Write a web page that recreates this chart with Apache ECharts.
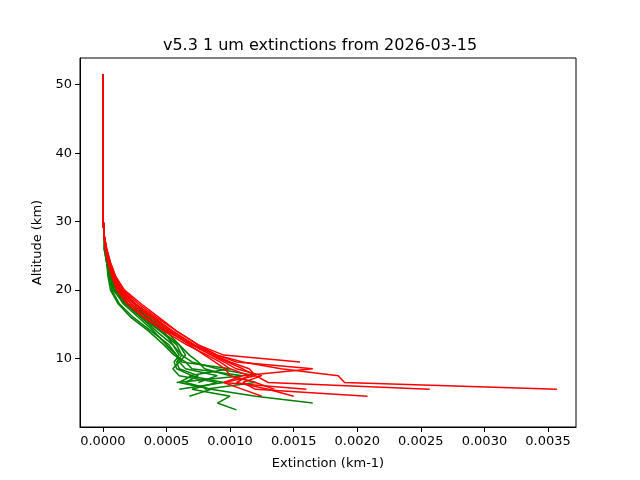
<!DOCTYPE html>
<html><head><meta charset="utf-8">
<script src="https://cdn.jsdelivr.net/npm/echarts@6/dist/echarts.min.js"></script>
</head><body style="margin:0">
<div id="chart" style="width:640px;height:480px"></div>
<script>
// altitude levels (km) shared by all profiles
var altitudes = [2.5,3.5,4.5,5.5,6.5,7.5,8.5,9.5,10.5,12,14,16,18,20,22,24,26,28,30,35,40,45,50,51.5];
var upper = [0.00001,0.000003,0.000001,0.0000005,0.0000003];
var xTicks = [0,0.0005,0.001,0.0015,0.002,0.0025,0.003,0.0035];
var yTicks = [10,20,30,40,50];
// green profiles (null = no data)
var greenProfiles = [
  [0.00105,0.00090,0.00100,0.00070,0.00090,0.00060,0.00055,0.00060,0.00058,0.00050,0.00040,0.00028,0.00016,0.00009,0.00006,0.00004,0.00002],
  [null,0.00165,0.00120,0.00085,0.00060,0.00070,0.00058,0.00056,0.00060,0.00055,0.00048,0.00035,0.00020,0.00011,0.00007,0.00004,0.00002],
  [null,null,0.00068,0.00085,0.00065,0.00075,0.00060,0.00058,0.00062,0.00058,0.00045,0.00030,0.00018,0.00010,0.00006,0.00003,0.00002],
  [null,null,null,0.00060,0.00095,0.00068,0.00100,0.00062,0.00058,0.00052,0.00038,0.00024,0.00013,0.00007,0.00005,0.00003,0.00002],
  [null,null,null,null,0.00075,0.00090,0.00065,0.00060,0.00065,0.00060,0.00050,0.00036,0.00022,0.00012,0.00007,0.00004,0.00002],
  [null,null,null,null,0.00058,0.00110,0.00070,0.00065,0.00056,0.00048,0.00036,0.00022,0.00012,0.00006,0.00004,0.00003,0.00001],
  [null,null,null,0.00080,0.00120,0.00100,0.00080,0.00075,0.00068,0.00060,0.00046,0.00032,0.00018,0.00009,0.00005,0.00003,0.00002],
  [null,null,null,null,null,0.00120,0.00090,0.00070,0.00062,0.00055,0.00042,0.00030,0.00017,0.00008,0.00005,0.00003,0.00001]
];
var redProfiles = [
  [null,null,null,0.00357,0.00190,0.00185,0.00140,0.00110,0.00090,0.00075,0.00058,0.00042,0.00028,0.00016,0.00010,0.00006,0.00003],
  [null,null,null,0.00257,0.00130,0.00120,0.00115,0.00100,0.00088,0.00072,0.00055,0.00040,0.00025,0.00014,0.00009,0.00005,0.00003],
  [null,null,0.00208,0.00120,0.00110,0.00125,0.00105,0.00095,0.00085,0.00070,0.00052,0.00038,0.00024,0.00013,0.00008,0.00005,0.00002],
  [null,null,null,null,null,null,null,0.00155,0.00095,0.00075,0.00058,0.00044,0.00030,0.00017,0.00010,0.00006,0.00003],
  [null,null,null,0.00160,0.00095,0.00110,0.00165,0.00105,0.00090,0.00072,0.00054,0.00040,0.00026,0.00015,0.00009,0.00005,0.00002],
  [null,null,0.00125,0.00110,0.00095,0.00120,0.00110,0.00098,0.00086,0.00070,0.00050,0.00034,0.00020,0.00012,0.00008,0.00005,0.00002],
  [null,null,0.00150,0.00130,0.00105,0.00115,0.00100,0.00092,0.00082,0.00066,0.00048,0.00032,0.00019,0.00011,0.00007,0.00004,0.00002],
  [null,null,null,0.00135,0.00120,0.00100,0.00096,0.00088,0.00080,0.00068,0.00052,0.00038,0.00022,0.00013,0.00008,0.00004,0.00002]
];

function toSeries(vals, color) {
  var all = vals.concat(upper.slice(0, altitudes.length - vals.length));
  while (all.length < altitudes.length) all.push(0);
  var pts = [];
  for (var i = 0; i < altitudes.length; i++) {
    if (all[i] !== null) pts.push([all[i], altitudes[i]]);
  }
  return { type: 'line', data: pts, showSymbol: false, symbol: 'none', animation: false,
    lineStyle: { color: color, width: 1.5 }, itemStyle: { color: color } };
}

var series = [];
greenProfiles.forEach(function (p) { series.push(toSeries(p, '#008000')); });
redProfiles.forEach(function (p) { series.push(toSeries(p, '#ff0000')); });

var myChart = echarts.init(document.getElementById('chart'));
var txt = { color: '#000', fontFamily: 'DejaVu Sans', fontSize: 13 };
myChart.setOption({
  animation: false,
  title: { text: 'v5.3 1 um extinctions from 2026-03-15', left: 'center', top: 33,
    textStyle: { fontFamily: 'DejaVu Sans', fontSize: 16, fontWeight: 'normal', color: '#000' } },
  grid: { left: 80, right: 64, top: 58, bottom: 53, show: true, borderColor: '#000', borderWidth: 1 },
  xAxis: { type: 'value', min: -0.00018, max: 0.00372,
    name: 'Extinction (km-1)', nameLocation: 'middle', nameGap: 30, nameTextStyle: txt,
    axisLine: { onZero: false, lineStyle: { color: '#000' } },
    axisTick: { show: true, customValues: xTicks, lineStyle: { color: '#000' } },
    splitLine: { show: false },
    axisLabel: Object.assign({ customValues: xTicks, formatter: function (v) { return v.toFixed(4); } }, txt) },
  yAxis: { type: 'value', min: 0, max: 53.9,
    name: 'Altitude (km)', nameLocation: 'middle', nameGap: 35, nameTextStyle: txt,
    axisLine: { show: true, onZero: false, lineStyle: { color: '#000' } },
    axisTick: { show: true, customValues: yTicks, lineStyle: { color: '#000' } },
    splitLine: { show: false },
    axisLabel: Object.assign({ customValues: yTicks }, txt) },
  series: series
});
</script>
</body></html>
